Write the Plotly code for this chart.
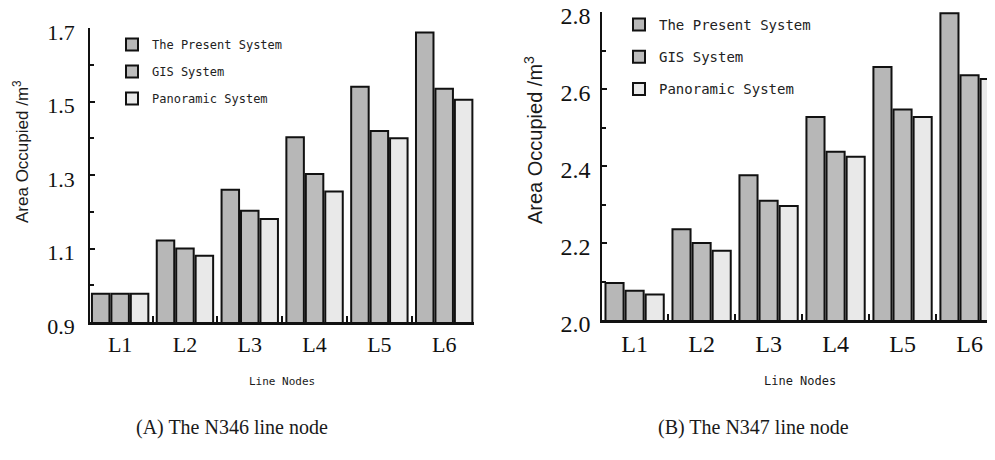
import plotly.graph_objects as go

categories = ["L1", "L2", "L3", "L4", "L5", "L6"]
series_names = ["The Present System", "GIS System", "Panoramic System"]

a_present = [0.977, 1.122, 1.26, 1.403, 1.54, 1.688]
a_gis = [0.977, 1.10, 1.203, 1.303, 1.42, 1.535]
a_pano = [0.977, 1.08, 1.18, 1.255, 1.40, 1.505]

b_present = [2.096, 2.236, 2.376, 2.527, 2.657, 2.797]
b_gis = [2.076, 2.2, 2.31, 2.437, 2.547, 2.636]
b_pano = [2.066, 2.18, 2.296, 2.424, 2.527, 2.626]

y_ticks_a = [0.9, 1.1, 1.3, 1.5, 1.7]
y_ticks_b = [2.0, 2.2, 2.4, 2.6, 2.8]

fills = ["#b7b7b7", "#bcbcbc", "#e9e9e9"]
xpos = list(range(len(categories)))

fig = go.Figure()
for i, (name, vals) in enumerate(zip(series_names, [a_present, a_gis, a_pano])):
    fig.add_trace(go.Bar(x=xpos, y=vals, name=name, marker=dict(color=fills[i], line=dict(color="#111111", width=2)),
                         xaxis="x", yaxis="y", legend="legend", legendgroup="a" + str(i), offsetgroup=str(i)))
for i, (name, vals) in enumerate(zip(series_names, [b_present, b_gis, b_pano])):
    fig.add_trace(go.Bar(x=xpos, y=vals, name=name, marker=dict(color=fills[i], line=dict(color="#111111", width=2)),
                         xaxis="x2", yaxis="y2", legend="legend2", legendgroup="b" + str(i), offsetgroup=str(i)))

# page body has an 8px margin; figure sized to fit the remaining viewport
OFF = 8
W, H = 995 - OFF, 460 - OFF
def px_x(p):
    return (p - OFF) / W
def px_y(p):
    return (H - (p - OFF)) / H

tickfont_a = dict(family="Liberation Serif", size=22, color="#111111")
tickfont_b = dict(family="Liberation Serif", size=24, color="#111111")

common_x = dict(showgrid=False, zeroline=False, showline=True, linecolor="#111111", linewidth=2.5,
                tickmode="array", tickvals=xpos, ticktext=categories, ticks="",
                minor=dict(tickmode="array", tickvals=[0.5, 1.5, 2.5, 3.5, 4.5], ticks="inside", ticklen=6,
                           tickwidth=2, tickcolor="#111111"),
                automargin=False, ticklabeloverflow="allow", fixedrange=True)
common_y = dict(showgrid=False, zeroline=False, showline=True, linecolor="#111111", linewidth=1.5,
                tickmode="array", ticks="inside", ticklen=5, tickwidth=1.5, tickcolor="#111111",
                automargin=False, ticklabeloverflow="allow", ticklabelshift=4,
                fixedrange=True)

fig.update_layout(
    width=W, height=H,
    margin=dict(l=0, r=0, t=0, b=0, pad=0, autoexpand=False),
    paper_bgcolor="white", plot_bgcolor="white",
    barmode="group", bargap=0.1, bargroupgap=0.1,
    xaxis=dict(domain=[px_x(90), px_x(474)], range=[-0.465, 5.46], anchor="y",
               tickfont=tickfont_a, ticklabelstandoff=1, **common_x),
    yaxis=dict(domain=[px_y(322), px_y(28)], range=[0.9, 1.7], anchor="x",
               tickvals=y_ticks_a, ticktext=[f"{v:.1f}" for v in y_ticks_a], tickfont=tickfont_a,
               ticklabelstandoff=9,
               minor=dict(dtick=0.1, tick0=0.9, ticks="inside", ticklen=4, tickwidth=1.5, tickcolor="#111111"),
               **common_y),
    xaxis2=dict(domain=[px_x(602), 1.0], range=[-0.487, 5.38], anchor="y2",
                tickfont=tickfont_b, ticklabelstandoff=0, **common_x),
    yaxis2=dict(domain=[px_y(320), px_y(12)], range=[2.0, 2.8], anchor="x2",
                tickvals=y_ticks_b, ticktext=[f"{v:.1f}" for v in y_ticks_b], tickfont=tickfont_b,
                ticklabelstandoff=5,
                minor=dict(dtick=0.1, tick0=2.0, ticks="inside", ticklen=4, tickwidth=1.5, tickcolor="#111111"),
                **common_y),
    legend=dict(x=px_x(112), y=px_y(30), xanchor="left", yanchor="top", bgcolor="rgba(0,0,0,0)",
                font=dict(family="DejaVu Sans Mono", size=12, color="#222222"), tracegroupgap=8,
                traceorder="grouped", itemwidth=30),
    legend2=dict(x=px_x(619), y=px_y(9), xanchor="left", yanchor="top", bgcolor="rgba(0,0,0,0)",
                 font=dict(family="DejaVu Sans Mono", size=14, color="#222222"), tracegroupgap=11,
                 traceorder="grouped", itemwidth=30),
    font=dict(family="Liberation Sans", color="#111111"),
)

def ann(text, x, y, size, family, angle=0):
    return dict(text=text, x=px_x(x), y=px_y(y), xref="paper", yref="paper", xanchor="center", yanchor="middle",
                textangle=angle, showarrow=False, font=dict(family=family, size=size, color="#1a1a1a"))

annotations = [
    ann("Area Occupied /m<sup>3</sup>", 21, 152, 17, "Liberation Sans", -90),
    ann("Area Occupied /m<sup>3</sup>", 533, 140, 20, "Liberation Sans", -90),
    ann("Line Nodes", 282, 381, 11, "DejaVu Sans Mono"),
    ann("Line Nodes", 800, 381, 12, "DejaVu Sans Mono"),
    ann("(A) The N346 line node", 232, 427, 20, "Liberation Serif"),
    ann("(B) The N347 line node", 753, 427, 20, "Liberation Serif"),
]
fig.update_layout(annotations=annotations)

fig.write_html("out.html")
